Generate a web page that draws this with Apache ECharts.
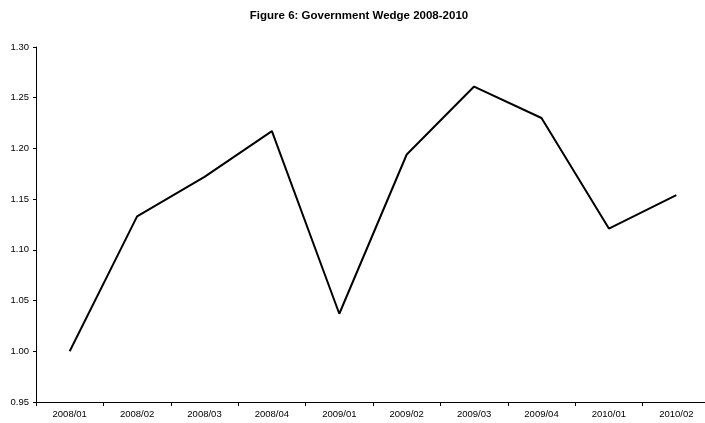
<!DOCTYPE html>
<html>
<head>
<meta charset="utf-8">
<script src="https://cdn.jsdelivr.net/npm/echarts@6/dist/echarts.min.js"></script>
<style>
  html, body { margin: 0; padding: 0; background: #fff; overflow: hidden; }
  /* the figure is a little wider than the window; its right edge is cut off */
  #chart { width: 718px; height: 423px; }
</style>
</head>
<body>
<div id="chart"></div>
<script>
// Quarterly periods on the horizontal axis
const periods = ['2008/01', '2008/02', '2008/03', '2008/04', '2009/01',
                 '2009/02', '2009/03', '2009/04', '2010/01', '2010/02'];
// Government wedge index, 2008/01 = 1.00
const wedge = [1.000, 1.133, 1.172, 1.217, 1.037, 1.194, 1.261, 1.230, 1.121, 1.154];
const titleText = 'Figure 6: Government Wedge 2008-2010';

const chart = echarts.init(document.getElementById('chart'), null, { renderer: 'canvas' });
chart.setOption({
  animation: false,
  backgroundColor: '#ffffff',
  title: {
    text: titleText,
    left: 'center',
    top: 5,
    textStyle: { fontFamily: 'Liberation Sans', fontSize: 11.5, fontWeight: 'bold', color: '#000' }
  },
  grid: { left: 36, right: 8, top: 47, bottom: 21, containLabel: false },
  xAxis: {
    type: 'category',
    data: periods,
    boundaryGap: true,
    axisLine: { lineStyle: { color: '#000', width: 1 } },
    axisTick: { show: true, length: 4, lineStyle: { color: '#000' } },
    axisLabel: { fontFamily: 'Liberation Sans', fontSize: 9.5, color: '#000', margin: 7 },
    splitLine: { show: false }
  },
  yAxis: {
    type: 'value',
    min: 0.95,
    max: 1.30,
    interval: 0.05,
    axisLine: { show: true, lineStyle: { color: '#000', width: 1 } },
    axisTick: { show: true, length: 3, lineStyle: { color: '#000' } },
    axisLabel: {
      fontFamily: 'Liberation Sans', fontSize: 9.5, color: '#000', margin: 7,
      formatter: v => v.toFixed(2)
    },
    splitLine: { show: false }
  },
  series: [{
    type: 'line',
    data: wedge,
    symbol: 'none',
    lineStyle: { color: '#000', width: 2 }
  }]
});
</script>
</body>
</html>
